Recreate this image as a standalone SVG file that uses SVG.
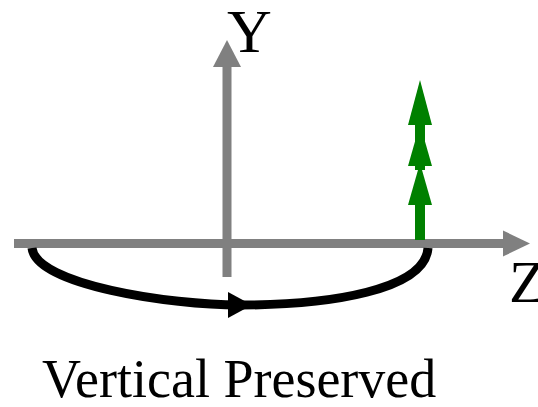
<svg xmlns="http://www.w3.org/2000/svg" width="538" height="407" viewBox="0 0 538 407">
<style>
.axis{stroke:#808080;stroke-width:9;fill:none}
.head{fill:#808080}
.lbl{font-family:"Liberation Serif","Times New Roman",serif;fill:#000}
</style>
<rect width="538" height="407" fill="#fff"/>
<g id="connectors">
<path class="axis" d="M14 243.5 H505"/>
<polygon class="head" points="503,230.5 530,243.5 503,256.5"/>
<path class="axis" d="M227 277 V65"/>
<polygon class="head" points="213,67 227,40 241,67"/>
<path d="M32 248 C36 285 170 305 240 305 C330 305 425 290 428 248" fill="none" stroke="#000" stroke-width="9"/>
<polygon points="228,292 252,305 228,318" fill="#000"/>
</g>
<g id="green-arrow">
<path d="M420 240 V200" stroke="#008000" stroke-width="10" fill="none"/>
<polygon points="420,80 432,125 408,125" fill="#008000"/>
<path d="M420 125 V170" stroke="#008000" stroke-width="10"/>
<polygon points="420,124 432,166 408,166" fill="#008000"/>
<polygon points="420,163 432,205 408,205" fill="#008000"/>
</g>
<g id="labels">
<text class="lbl" x="227" y="52" font-size="62">Y</text>
<text class="lbl" x="509" y="302" font-size="60">Z</text>
<text class="lbl" x="42" y="397" font-size="54">Vertical Preserved</text>
</g>
</svg>
